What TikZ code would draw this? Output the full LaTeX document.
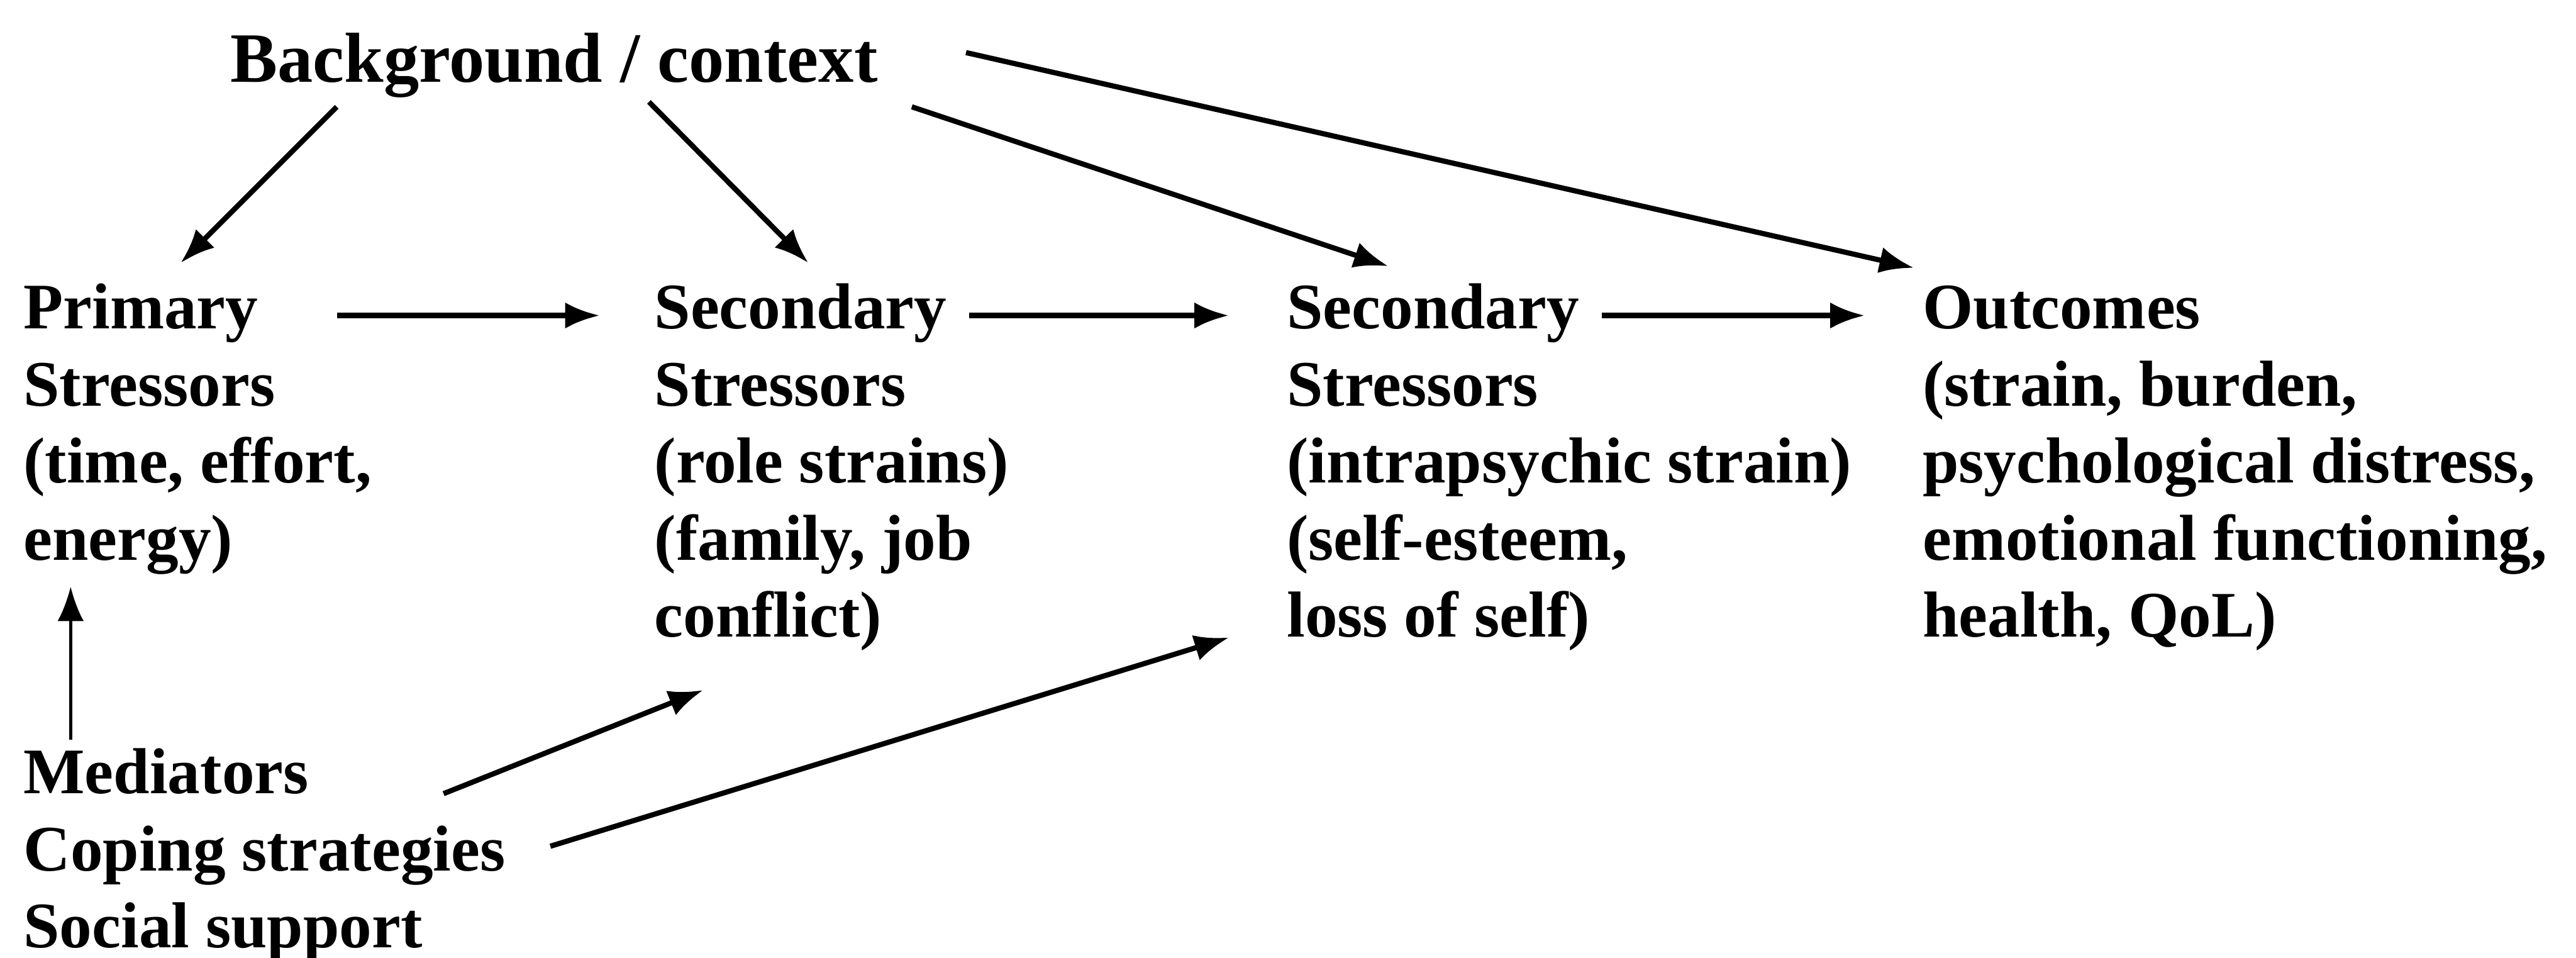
\documentclass[tikz,border=0pt]{standalone}
\usepackage{fontspec}
\setmainfont{Liberation Serif}
\usetikzlibrary{calc,arrows.meta}
\tikzstyle{bloc} = [anchor=base west, inner sep=0pt, font=\fontsize{22.5}{26.7}\selectfont\bfseries]
\tikzstyle{fleche} = [-{Latex[length=4.2mm,width=3.2mm]}, line width=1.8pt]

\begin{document}
\begin{tikzpicture}
                \useasboundingbox (0,0) rectangle (31.36,-11.66);

                \node [bloc, font=\fontsize{24.5}{26.7}\selectfont\bfseries] (contexte) at (2.8,-1.0) {Background / context};

                \node [bloc] (primaire) at (0.28,-4.0) {\begin{tabular}[t]{@{}l@{}}
                    Primary \\
                    Stressors \\
                    (time, effort, \\
                    energy)
                \end{tabular}};

                \node [bloc] (secondaire) at (7.96,-4.0) {\begin{tabular}[t]{@{}l@{}}
                    Secondary \\
                    Stressors \\
                    (role strains) \\
                    (family, job \\
                    conflict)
                \end{tabular}};

                \node [bloc] (intrapsy) at (15.66,-4.0) {\begin{tabular}[t]{@{}l@{}}
                    Secondary \\
                    Stressors \\
                    (intrapsychic strain) \\
                    (self-esteem, \\
                    loss of self)
                \end{tabular}};

                \node [bloc] (resultats) at (23.4,-4.0) {\begin{tabular}[t]{@{}l@{}}
                    Outcomes \\
                    (strain, burden, \\
                    psychological distress, \\
                    emotional functioning, \\
                    health, QoL)
                \end{tabular}};

                \node [bloc] (mediateurs) at (0.28,-9.66) {\begin{tabular}[t]{@{}l@{}}
                    Mediators \\
                    Coping strategies \\
                    Social support
                \end{tabular}};

                % contexte vers les stresseurs et les resultats
                \draw[fleche] ($(contexte.base west)+(1.3,-0.3)$) -- ($(primaire.base west)+(1.92,0.8)$);
                \draw[fleche] ($(contexte.base west)+(5.1,-0.24)$) -- ($(secondaire.base west)+(1.88,0.8)$);
                \draw[fleche] ($(contexte.base west)+(8.3,-0.3)$) -- ($(intrapsy.base west)+(1.24,0.76)$);
                \draw[fleche] ($(contexte.base west)+(8.96,0.36)$) -- ($(resultats.base west)+(-0.1,0.74)$);

                % chaine des stresseurs
                \draw[fleche] ($(primaire.base west)+(3.82,0.16)$) -- ($(secondaire.base west)+(-0.66,0.16)$);
                \draw[fleche] ($(secondaire.base west)+(3.84,0.16)$) -- ($(intrapsy.base west)+(-0.7,0.16)$);
                \draw[fleche] ($(intrapsy.base west)+(3.84,0.16)$) -- ($(resultats.base west)+(-0.7,0.16)$);

                % mediateurs
                \draw[fleche, line width=1pt] ($(mediateurs.base west)+(0.58,0.66)$) -- ($(primaire.base west)+(0.58,-3.14)$);
                \draw[fleche] ($(mediateurs.base west)+(5.12,0)$) -- ($(secondaire.base west)+(0.6,-4.4)$);
                \draw[fleche] ($(mediateurs.base west)+(6.42,-0.64)$) -- ($(intrapsy.base west)+(-0.7,-3.76)$);
            \end{tikzpicture}
\end{document}
